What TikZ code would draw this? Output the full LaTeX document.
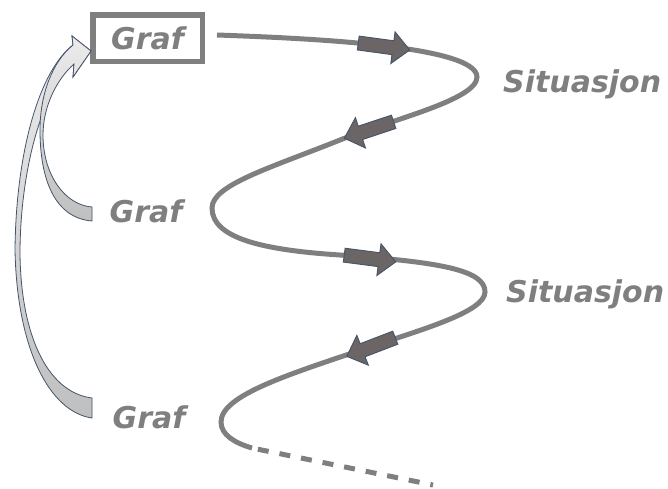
\documentclass[tikz,border=0pt]{standalone}
\usepackage{fontspec}
\newfontfamily\labelfont[BoldItalicFont={DejaVu Sans Bold Oblique}]{DejaVu Sans}
\definecolor{curvegray}{HTML}{7F7F7F}
\definecolor{arrowfill}{HTML}{6B6565}
\definecolor{arrowline}{HTML}{44546A}

\begin{document}
\begin{tikzpicture}[x=1pt, y=-1pt,
    lbl/.style={font=\labelfont\bfseries\itshape\fontsize{30}{36}\selectfont, text=curvegray, inner sep=0pt},
    spiral/.style={draw=curvegray, line width=5pt},
    backarrow/.style={draw=arrowline, line width=0.8pt, top color=gray!15, bottom color=gray!50},
    flowarrow/.pic={\filldraw[fill=arrowfill, draw=arrowline, line width=0.9pt]
      (-26,-7) -- (9,-7) -- (9,-16) -- (26,0) -- (9,16) -- (9,7) -- (-26,7) -- cycle;}]
    \useasboundingbox (0,0) rectangle (668,488);

    \node[lbl, draw=curvegray, line width=5.5pt, minimum width=109.5, minimum height=46.5] (g1) at (147.5,38) {Graf};
    \node[lbl, anchor=base] (g2) at (146,222) {Graf};
    \node[lbl, anchor=base] (g3) at (149,428) {Graf};
    \node[lbl, anchor=base west] (s1) at (503,92) {Situasjon};
    \node[lbl, anchor=base west] (s2) at (506,302) {Situasjon};

    % curved arrows back to the first graph
    \path[backarrow] (92,418) .. controls (50,412) and (17,350) .. (15,250)
      .. controls (16,150) and (40,70) .. (73,45) -- (72,36) -- (91,51) -- (73,77) -- (74,64)
      .. controls (46,85) and (21,160) .. (20,250) .. controls (20,330) and (45,392) .. (92,398) -- cycle;
    \path[backarrow] (92,221) .. controls (55,218) and (40,180) .. (40,130)
      .. controls (40,95) and (52,62) .. (73,45) -- (72,36) -- (91,51) -- (73,77) -- (74,64)
      .. controls (58,78) and (43,105) .. (43,135) .. controls (43,175) and (65,205) .. (92,207) -- cycle;

    % the spiral
    \draw[spiral] (g1.east) ++(12,-3) .. controls (300,38) and (477,45) .. (477,77)
      .. controls (477,100) and (390,120) .. (340,140)
      .. controls (270,168) and (212,185) .. (212,208)
      .. controls (212,238) and (262,250) .. (340,255)
      .. controls (440,262) and (485,270) .. (485,292)
      .. controls (485,312) and (420,330) .. (370,347)
      .. controls (290,374) and (221,395) .. (221,422)
      .. controls (221,435) and (235,443) .. (252,448) coordinate (tail);
    \coordinate (more) at (433,485);
    \draw[spiral, dash pattern=on 11pt off 11pt, dash phase=-6pt] (tail) -- (more);

    \pic[rotate=-7.7] at (384,46.5) {flowarrow};
    \pic[rotate=198.4] at (369,130) {flowarrow};
    \pic[rotate=-7.4] at (370,258.5) {flowarrow};
    \pic[rotate=201] at (371,347) {flowarrow};
\end{tikzpicture}
\end{document}
